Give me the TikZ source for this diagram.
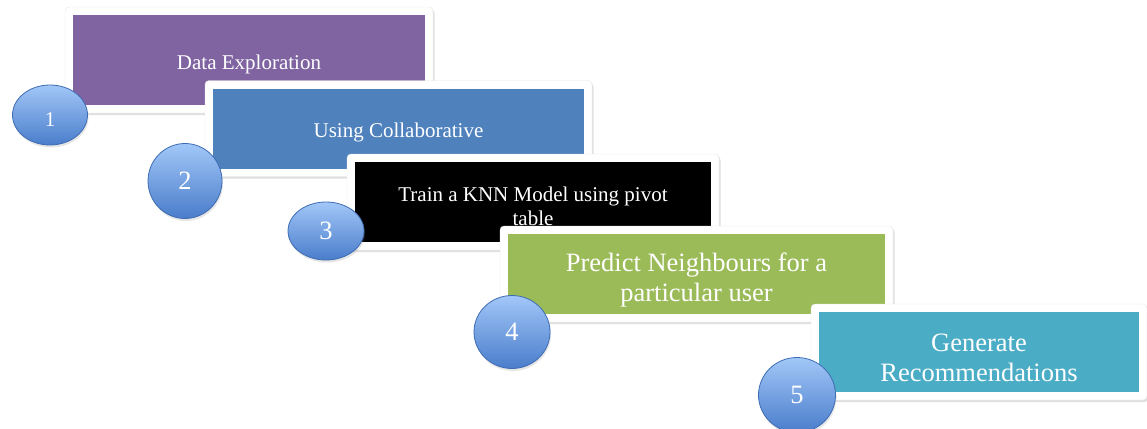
\documentclass[tikz,border=0pt]{standalone}
\usepackage{fontspec}
\setmainfont{Liberation Serif}
\usetikzlibrary{shapes.geometric,shadows}
\definecolor{stagePurple}{HTML}{8064A2}
\definecolor{stageBlue}{HTML}{4F81BD}
\definecolor{stageGreen}{HTML}{9BBB59}
\definecolor{stageTeal}{HTML}{4BACC6}
\definecolor{numTop}{HTML}{A2C7F8}
\definecolor{numBottom}{HTML}{4A7DCB}
\definecolor{numEdge}{HTML}{3D6CB3}
\newcommand{\lowtext}{\rule{0pt}{1.12em}}
\begin{document}
\begin{tikzpicture}[x=1pt, y=-1pt,
		frame/.style={draw=black!10, fill=white, rounded corners=4pt, inner sep=0pt,
			drop shadow={shadow xshift=1.5pt, shadow yshift=-2pt, opacity=0.25}},
		stage/.style={inner sep=0pt, text=white, align=center},
		small/.style={font=\fontsize{21}{24}\selectfont},
		large/.style={font=\fontsize{26.5}{30}\selectfont},
		num/.style={ellipse, draw=numEdge, line width=0.8pt, top color=numTop, bottom color=numBottom,
			text=white, inner sep=0pt, large,
			drop shadow={shadow xshift=1pt, shadow yshift=-2.5pt, opacity=0.2}}]
		\useasboundingbox (0, 0) rectangle (1147, 428);
		
		% Step 1
		\node[frame, minimum width=368, minimum height=106] (f1) at (249, 60) {};
		\node[stage, small, fill=stagePurple, minimum width=352, minimum height=90] (s1) at (249, 60) {\lowtext Data Exploration};
		\node[num, small, minimum width=75, minimum height=60] (n1) at (50, 115) {\lowtext 1};
		
		% Step 2
		\node[frame, minimum width=387, minimum height=96] (f2) at (398.5, 128.5) {};
		\node[stage, small, fill=stageBlue, minimum width=371, minimum height=80] (s2) at (398.5, 128.5) {\lowtext Using Collaborative};
		\node[num, minimum width=74, minimum height=75] (n2) at (185, 181) {2};
		
		% Step 3
		\node[frame, minimum width=372, minimum height=96] (f3) at (533, 202) {};
		\node[stage, small, fill=black, minimum width=356, minimum height=80] (s3) at (533, 202) {\lowtext Train a KNN Model using pivot\\table};
		\node[num, minimum width=76, minimum height=58] (n3) at (326, 231) {3};
		
		% Step 4
		\node[frame, minimum width=393, minimum height=96] (f4) at (696.5, 274) {};
		\node[stage, large, fill=stageGreen, minimum width=377, minimum height=80] (s4) at (696.5, 274) {\lowtext Predict Neighbours for a\\particular user};
		\node[num, minimum width=76, minimum height=73] (n4) at (512, 332) {4};
		
		% Step 5
		\node[frame, minimum width=336, minimum height=96] (f5) at (979, 352) {};
		\node[stage, large, fill=stageTeal, minimum width=320, minimum height=80] (s5) at (979, 352) {\lowtext Generate\\Recommendations};
		\node[num, minimum width=77, minimum height=75] (n5) at (797, 395) {5};
	\end{tikzpicture}
\end{document}
